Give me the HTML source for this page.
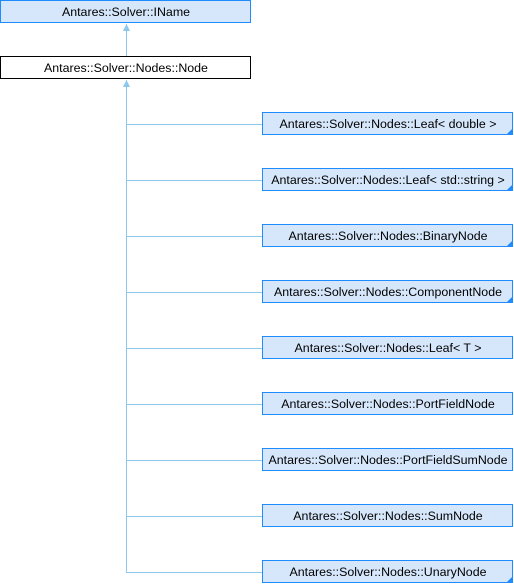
<!DOCTYPE html>
<html><head><meta charset="utf-8"><style>
html,body{margin:0;padding:0;background:#fff;width:514px;height:584px;overflow:hidden}
svg text{font-family:"Liberation Sans",Arial,sans-serif;font-size:12.4px;fill:#000}
</style></head><body>
<svg width="514" height="584" xmlns="http://www.w3.org/2000/svg">
<g stroke="#8cc8ee" stroke-width="1" fill="none">
<line x1="126.5" y1="24" x2="126.5" y2="56"/>
<line x1="126.5" y1="80" x2="126.5" y2="572.5"/>
<line x1="126" y1="124.5" x2="262" y2="124.5"/>
<line x1="126" y1="180.5" x2="262" y2="180.5"/>
<line x1="126" y1="236.5" x2="262" y2="236.5"/>
<line x1="126" y1="292.5" x2="262" y2="292.5"/>
<line x1="126" y1="348.5" x2="262" y2="348.5"/>
<line x1="126" y1="404.5" x2="262" y2="404.5"/>
<line x1="126" y1="460.5" x2="262" y2="460.5"/>
<line x1="126" y1="516.5" x2="262" y2="516.5"/>
<line x1="126" y1="572.5" x2="262" y2="572.5"/>
</g>
<g fill="#8cc8ee">
<polygon points="126.5,24 123,31 130,31"/>
<polygon points="126.5,80 123,87 130,87"/>
</g>
<rect x="0.5" y="0.5" width="250" height="22" fill="#d6e6fb" stroke="#1e8cff"/>
<text x="126" y="16" text-anchor="middle">Antares::Solver::IName</text>
<rect x="0.5" y="56.5" width="250" height="22" fill="#fff" stroke="#000"/>
<text x="126" y="72" text-anchor="middle">Antares::Solver::Nodes::Node</text>
<g>
<rect x="262.5" y="112.5" width="250" height="22" fill="#d6e6fb" stroke="#1e8cff"/>
<polygon points="512,129 512,134 507,134" fill="#1e8cff"/>
<text x="388" y="128" text-anchor="middle">Antares::Solver::Nodes::Leaf&lt; double &gt;</text>
<rect x="262.5" y="168.5" width="250" height="22" fill="#d6e6fb" stroke="#1e8cff"/>
<polygon points="512,185 512,190 507,190" fill="#1e8cff"/>
<text x="388" y="184" text-anchor="middle">Antares::Solver::Nodes::Leaf&lt; std::string &gt;</text>
<rect x="262.5" y="224.5" width="250" height="22" fill="#d6e6fb" stroke="#1e8cff"/>
<polygon points="512,241 512,246 507,246" fill="#1e8cff"/>
<text x="388" y="240" text-anchor="middle">Antares::Solver::Nodes::BinaryNode</text>
<rect x="262.5" y="280.5" width="250" height="22" fill="#d6e6fb" stroke="#1e8cff"/>
<polygon points="512,297 512,302 507,302" fill="#1e8cff"/>
<text x="388" y="296" text-anchor="middle">Antares::Solver::Nodes::ComponentNode</text>
<rect x="262.5" y="336.5" width="250" height="22" fill="#d6e6fb" stroke="#1e8cff"/>
<text x="388" y="352" text-anchor="middle">Antares::Solver::Nodes::Leaf&lt; T &gt;</text>
<rect x="262.5" y="392.5" width="250" height="22" fill="#d6e6fb" stroke="#1e8cff"/>
<text x="388" y="408" text-anchor="middle">Antares::Solver::Nodes::PortFieldNode</text>
<rect x="262.5" y="448.5" width="250" height="22" fill="#d6e6fb" stroke="#1e8cff"/>
<text x="388" y="464" text-anchor="middle">Antares::Solver::Nodes::PortFieldSumNode</text>
<rect x="262.5" y="504.5" width="250" height="22" fill="#d6e6fb" stroke="#1e8cff"/>
<text x="388" y="520" text-anchor="middle">Antares::Solver::Nodes::SumNode</text>
<rect x="262.5" y="560.5" width="250" height="22" fill="#d6e6fb" stroke="#1e8cff"/>
<polygon points="512,577 512,582 507,582" fill="#1e8cff"/>
<text x="388" y="576" text-anchor="middle">Antares::Solver::Nodes::UnaryNode</text>
</g>
</svg>
</body></html>
